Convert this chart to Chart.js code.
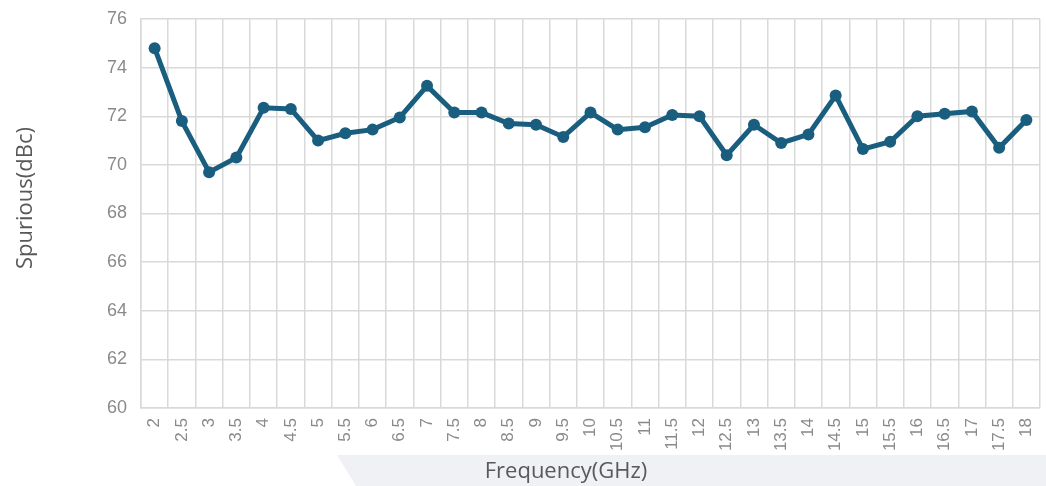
<!DOCTYPE html>
<html>
<head>
<meta charset="utf-8">
<script src="https://cdn.jsdelivr.net/npm/chart.js@4/dist/chart.umd.min.js"></script>
<style>
  html, body { margin: 0; padding: 0; background: #ffffff; }
  #wrap { width: 1046px; height: 486px; position: relative; }
</style>
</head>
<body>
<div id="wrap"><canvas id="c" width="1046" height="486"></canvas></div>
<script>
const categories = ['2','2.5','3','3.5','4','4.5','5','5.5','6','6.5','7','7.5','8','8.5','9','9.5','10','10.5','11','11.5','12','12.5','13','13.5','14','14.5','15','15.5','16','16.5','17','17.5','18'];
const spurious = [74.8, 71.8, 69.7, 70.3, 72.35, 72.3, 71.0, 71.3, 71.45, 71.95, 73.25, 72.15, 72.15, 71.7, 71.65, 71.15, 72.15, 71.45, 71.55, 72.05, 72.0, 70.4, 71.65, 70.9, 71.25, 72.85, 70.65, 70.95, 72.0, 72.1, 72.2, 70.7, 71.85];
const yMin = 60, yMax = 76, yStep = 2;
const xTitle = 'Frequency(GHz)';
const yTitle = 'Spurious(dBc)';

const decor = {
  id: 'decor',
  beforeDraw(chart) {
    const ctx = chart.ctx;
    ctx.save();
    ctx.fillStyle = '#eff1f4';
    ctx.beginPath();
    ctx.moveTo(337, 455);
    ctx.lineTo(1046, 455);
    ctx.lineTo(1046, 486);
    ctx.lineTo(356, 486);
    ctx.closePath();
    ctx.fill();
    ctx.restore();
  },
  afterDraw(chart) {
    const ctx = chart.ctx;
    ctx.save();
    ctx.fillStyle = '#595959';
    ctx.font = '22px "Open Sans"';
    ctx.textAlign = 'center';
    ctx.textBaseline = 'middle';
    ctx.fillText(xTitle, 566, 472);
    ctx.translate(26, 198);
    ctx.rotate(-Math.PI / 2);
    ctx.fillText(yTitle, 0, 0);
    ctx.restore();
  }
};

new Chart(document.getElementById('c'), {
  type: 'line',
  data: {
    labels: categories,
    datasets: [{
      data: spurious,
      borderColor: '#1a5e7f',
      backgroundColor: '#1a5e7f',
      borderWidth: 5,
      pointRadius: 6,
      pointHoverRadius: 6,
      pointBackgroundColor: '#1a5e7f',
      pointBorderWidth: 0,
      tension: 0,
      fill: false
    }]
  },
  options: {
    responsive: false,
    animation: false,
    layout: { padding: { top: 19, right: 3, left: 0, bottom: 0 } },
    plugins: { legend: { display: false }, tooltip: { enabled: false } },
    scales: {
      x: {
        type: 'category',
        offset: true,
        afterFit(s) { s.height = 78; s.paddingLeft = 0; s.paddingRight = 0; },
        grid: { offset: true, color: '#d9d9d9', lineWidth: 1.5, drawTicks: false },
        border: { color: '#d9d9d9', width: 1.5 },
        ticks: {
          color: '#8a8a8a',
          font: { family: '"Liberation Sans", Arial, sans-serif', size: 17 },
          minRotation: 90, maxRotation: 90,
          autoSkip: false,
          padding: 10
        }
      },
      y: {
        min: yMin, max: yMax,
        afterFit(s) { s.width = 141; s.paddingTop = 0; s.paddingBottom = 0; },
        grid: { color: '#d9d9d9', lineWidth: 1.5, drawTicks: false },
        border: { color: '#d9d9d9', width: 1.5 },
        ticks: {
          stepSize: yStep,
          color: '#8a8a8a',
          font: { family: '"Liberation Sans", Arial, sans-serif', size: 18 },
          padding: 14
        }
      }
    }
  },
  plugins: [decor]
});
</script>
</body>
</html>
